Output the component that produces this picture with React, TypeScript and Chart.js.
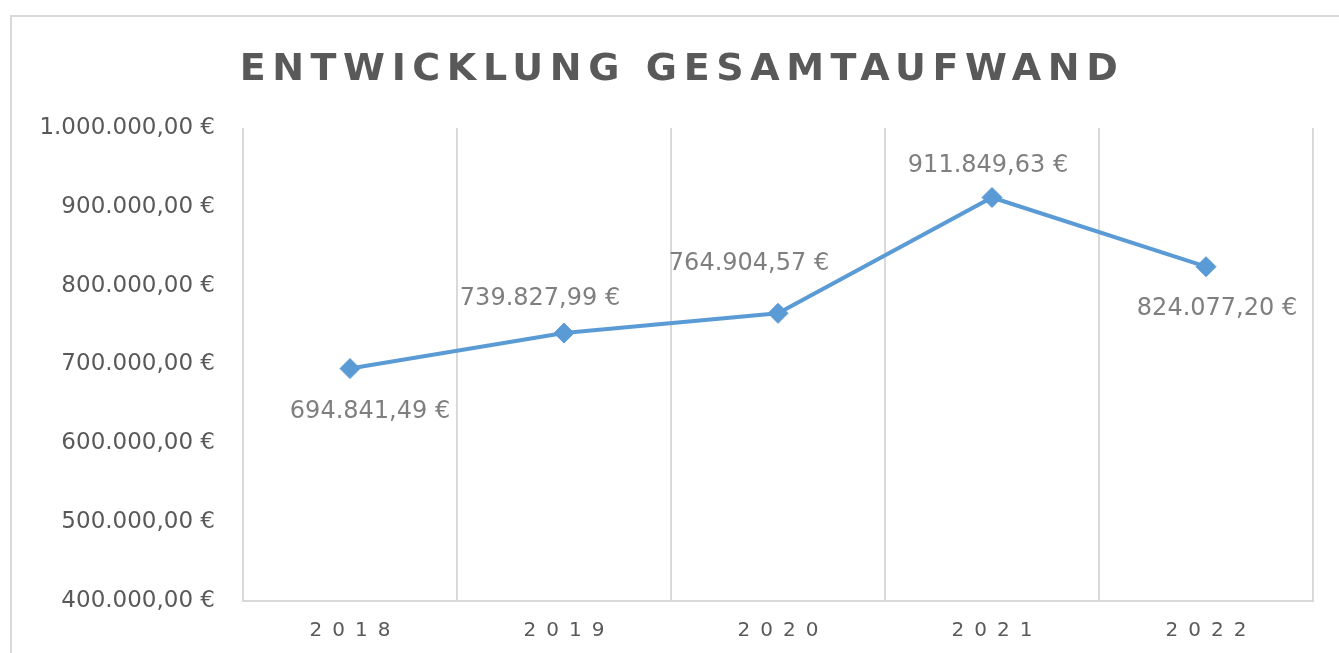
import React, { useEffect, useRef } from 'react';
import { Chart, registerables } from 'chart.js';

Chart.register(...registerables);

const TITLE = 'ENTWICKLUNG GESAMTAUFWAND';
const YEARS = ['2018', '2019', '2020', '2021', '2022'];
const TOTALS = [694841.49, 739827.99, 764904.57, 911849.63, 824077.2];
const Y_MIN = 400000;
const Y_MAX = 1000000;
const Y_STEP = 100000;
// label offsets (dx, dy) relative to each point, in px
const LABEL_OFFSETS: [number, number][] = [
  [20, 43],
  [-24, -34],
  [-29, -50],
  [-4, -32],
  [11, 42],
];

function fmtEuro(v: number): string {
  const neg = v < 0;
  const fixed = Math.abs(v).toFixed(2);
  const [i, d] = fixed.split('.');
  const ii = i.replace(/\B(?=(\d{3})+(?!\d))/g, '.');
  return (neg ? '-' : '') + ii + ',' + d + ' €';
}

const framePlugin = {
  id: 'frameTitle',
  beforeDraw(chart: any) {
    const ctx = chart.ctx;
    ctx.save();
    ctx.fillStyle = '#ffffff';
    ctx.fillRect(0, 0, chart.width, chart.height);
    ctx.strokeStyle = '#d9d9d9';
    ctx.lineWidth = 2;
    ctx.strokeRect(11, 16, chart.width + 20, chart.height + 20);
    ctx.fillStyle = '#595959';
    ctx.font = 'bold 38px "DejaVu Sans"';
    (ctx as any).letterSpacing = '6.6px';
    ctx.textAlign = 'center';
    ctx.textBaseline = 'alphabetic';
    ctx.fillText(TITLE, 682, 80);
    (ctx as any).letterSpacing = '0px';
    ctx.restore();
  },
};

const labelPlugin = {
  id: 'pointLabels',
  afterDatasetsDraw(chart: any) {
    const ctx = chart.ctx;
    const meta = chart.getDatasetMeta(0);
    ctx.save();
    ctx.fillStyle = '#7f7f7f';
    ctx.font = '24px "DejaVu Sans"';
    ctx.textAlign = 'center';
    ctx.textBaseline = 'middle';
    meta.data.forEach((pt: any, i: number) => {
      const [dx, dy] = LABEL_OFFSETS[i] || [0, -30];
      ctx.fillText(fmtEuro(TOTALS[i]), pt.x + dx, pt.y + dy);
    });
    ctx.restore();
  },
};

export default function App() {
  const ref = useRef<HTMLCanvasElement | null>(null);
  useEffect(() => {
    if (!ref.current) return;
    const chart = new Chart(ref.current, {
      type: 'line',
      data: {
        labels: YEARS,
        datasets: [
          {
            data: TOTALS,
            borderColor: '#5b9bd5',
            backgroundColor: '#5b9bd5',
            borderWidth: 4,
            pointStyle: 'rectRot',
            pointRadius: 10,
            pointBorderWidth: 1,
            pointBorderColor: '#5b9bd5',
            pointBackgroundColor: '#5b9bd5',
            tension: 0,
          },
        ],
      },
      options: {
        animation: false,
        responsive: true,
        maintainAspectRatio: false,
        layout: { padding: { top: 128, right: 26, left: 0, bottom: 0 } },
        plugins: {
          legend: { display: false },
          title: { display: false },
          tooltip: { enabled: false },
        },
        scales: {
          x: {
            offset: true,
            grid: { offset: true, color: '#d9d9d9', lineWidth: 2, drawTicks: false },
            border: { color: '#d9d9d9', width: 2 },
            ticks: {
              color: '#595959',
              font: { family: 'DejaVu Sans', size: 20 },
              padding: 18,
              callback: function (this: any, val: any) {
                const s = String(this.getLabelForValue(val));
                return s.split('').join('\u2002');
              },
            },
            afterFit: (scale: any) => {
              scale.height = 52;
            },
          },
          y: {
            min: Y_MIN,
            max: Y_MAX,
            grid: { display: false, drawTicks: false },
            border: { display: false },
            ticks: {
              stepSize: Y_STEP,
              color: '#595959',
              font: { family: 'DejaVu Sans', size: 23 },
              padding: 28,
              callback: (v: any) => fmtEuro(Number(v)),
            },
            afterFit: (scale: any) => {
              scale.width = 243;
            },
          },
        },
      },
      plugins: [framePlugin, labelPlugin],
    });
    return () => chart.destroy();
  }, []);
  return (
    <div style={{ position: 'fixed', left: 0, top: 0, width: 1339, height: 653 }}>
      <canvas ref={ref} />
    </div>
  );
}
